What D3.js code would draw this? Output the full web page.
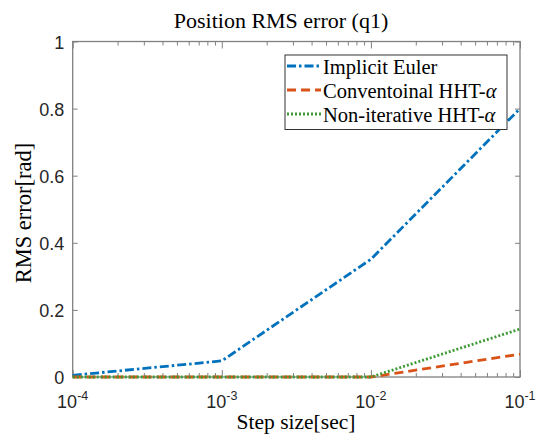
<!DOCTYPE html>
<html>
<head>
<meta charset="utf-8">
<script src="https://cdn.jsdelivr.net/npm/d3@7/dist/d3.min.js"></script>
<style>
  html, body { margin: 0; padding: 0; background: #fff; }
  svg { display: block; }
</style>
</head>
<body>
<svg id="chart" width="539" height="443"></svg>
<script>
// Step sizes (seconds) and RMS position error per integrator
const stepSizes = [1e-4, 1e-3, 1e-2, 1e-1];
const implicitEuler = [0.005, 0.048, 0.351, 0.80];
const conventionalHHT = [0.0, 0.0, 0.0, 0.068];
const nonIterativeHHT = [0.0, 0.0, 0.0, 0.143];

const yTickValues = [0, 0.2, 0.4, 0.6, 0.8, 1];
const yTickLabels = ["0", "0.2", "0.4", "0.6", "0.8", "1"];
const xTickValues = [1e-4, 1e-3, 1e-2, 1e-1];
const xTickExponents = ["-4", "-3", "-2", "-1"];

const seriesNames = ["Implicit Euler", "Conventoinal HHT-", "Non-iterative HHT-"];
const seriesColors = ["#0072BD", "#D95319", "#3d9a34"];
const seriesDash = ["9,3,2.5,3", "9,5", "2,2"];

const svg = d3.select("#chart");
const plotLeft = 72.7, plotRight = 520, plotTop = 41.5, plotBottom = 377;

const x = d3.scaleLog().domain([1e-4, 1e-1]).range([plotLeft, plotRight]);
const y = d3.scaleLinear().domain([0, 1]).range([plotBottom, plotTop]);

const axisColor = "#808080";
const serif = "Liberation Serif";
const sans = "Liberation Sans";

// Minor log ticks (2..9 within each decade)
const minorTicks = [];
for (let e = -4; e < -1; e++) {
  for (let m = 2; m <= 9; m++) minorTicks.push(m * Math.pow(10, e));
}

const g = svg.append("g");

// Ticks on all four sides, pointing inward
const xBottom = d3.axisBottom(x).tickValues(xTickValues).tickSize(-7).tickFormat("");
const xTop = d3.axisTop(x).tickValues(xTickValues).tickSize(-7).tickFormat("");
const xBottomMinor = d3.axisBottom(x).tickValues(minorTicks).tickSize(-4).tickFormat("");
const xTopMinor = d3.axisTop(x).tickValues(minorTicks).tickSize(-4).tickFormat("");
const yLeft = d3.axisLeft(y).tickValues(yTickValues).tickSize(-5).tickFormat("");
const yRight = d3.axisRight(y).tickValues(yTickValues).tickSize(-5).tickFormat("");

function styleAxis(sel) {
  sel.selectAll("path").remove();
  sel.selectAll("line").attr("stroke", axisColor).attr("stroke-width", 1);
}
g.append("g").attr("transform", `translate(0,${plotBottom})`).call(xBottom).call(styleAxis);
g.append("g").attr("transform", `translate(0,${plotTop})`).call(xTop).call(styleAxis);
g.append("g").attr("transform", `translate(0,${plotBottom})`).call(xBottomMinor).call(styleAxis);
g.append("g").attr("transform", `translate(0,${plotTop})`).call(xTopMinor).call(styleAxis);
g.append("g").attr("transform", `translate(${plotLeft},0)`).call(yLeft).call(styleAxis);
g.append("g").attr("transform", `translate(${plotRight},0)`).call(yRight).call(styleAxis);

// Plot frame
g.append("rect")
  .attr("x", plotLeft).attr("y", plotTop)
  .attr("width", plotRight - plotLeft).attr("height", plotBottom - plotTop)
  .attr("fill", "none").attr("stroke", axisColor).attr("stroke-width", 1.3);

// Y tick labels
g.selectAll(".ylab").data(yTickValues).enter().append("text")
  .attr("x", plotLeft - 8.5).attr("y", d => y(d) + 7)
  .attr("text-anchor", "end")
  .style("font-family", sans).style("font-size", "18px").attr("fill", "#262626")
  .text((d, i) => yTickLabels[i]);

// X tick labels as 10 with superscript exponents
xTickValues.forEach((v, i) => {
  const t = g.append("text")
    .attr("x", x(v)).attr("y", 408)
    .attr("text-anchor", "middle")
    .style("font-family", sans).attr("fill", "#262626");
  t.append("tspan").style("font-size", "18px").text("10");
  t.append("tspan").style("font-size", "12.5px").attr("dy", -8).text(xTickExponents[i]);
});

// Title and axis labels
svg.append("text").attr("x", 281).attr("y", 27.5).attr("text-anchor", "middle")
  .style("font-family", serif).style("font-size", "22px").attr("fill", "#000")
  .text("Position RMS error (q1)");
svg.append("text").attr("x", 296).attr("y", 428.5).attr("text-anchor", "middle")
  .style("font-family", serif).style("font-size", "21.5px").attr("fill", "#000")
  .text("Step size[sec]");
svg.append("text")
  .attr("transform", `translate(31,213) rotate(-90)`)
  .attr("text-anchor", "middle")
  .style("font-family", serif).style("font-size", "22.5px").attr("fill", "#000")
  .text("RMS error[rad]");

// Series lines
const series = [implicitEuler, conventionalHHT, nonIterativeHHT];
const line = d3.line().x((d, i) => x(stepSizes[i])).y(d => y(d));
svg.append("clipPath").attr("id", "plotclip").append("rect")
  .attr("x", plotLeft - 2).attr("y", plotTop)
  .attr("width", plotRight - plotLeft + 4).attr("height", plotBottom - plotTop + 2);
const lines = svg.append("g").attr("clip-path", "url(#plotclip)");
series.forEach((vals, k) => {
  lines.append("path").datum(vals)
    .attr("d", line)
    .attr("fill", "none")
    .attr("stroke", seriesColors[k])
    .attr("stroke-width", 2.8)
    .attr("stroke-dasharray", seriesDash[k]);
});

// Legend
const lg = svg.append("g");
lg.append("rect").attr("x", 285).attr("y", 55).attr("width", 222).attr("height", 74.5)
  .attr("fill", "#fff").attr("stroke", "#333").attr("stroke-width", 1);
seriesNames.forEach((name, k) => {
  const yy = 66 + k * 24;
  lg.append("line").attr("x1", 287).attr("x2", 321).attr("y1", yy).attr("y2", yy)
    .attr("stroke", seriesColors[k]).attr("stroke-width", 2.8)
    .attr("stroke-dasharray", seriesDash[k]);
  const t = lg.append("text").attr("x", 323).attr("y", yy + 8)
    .style("font-family", serif).style("font-size", "20.5px").attr("fill", "#000");
  t.append("tspan").text(name);
  if (k > 0) t.append("tspan").style("font-style", "italic").text("α");
});
</script>
</body>
</html>
